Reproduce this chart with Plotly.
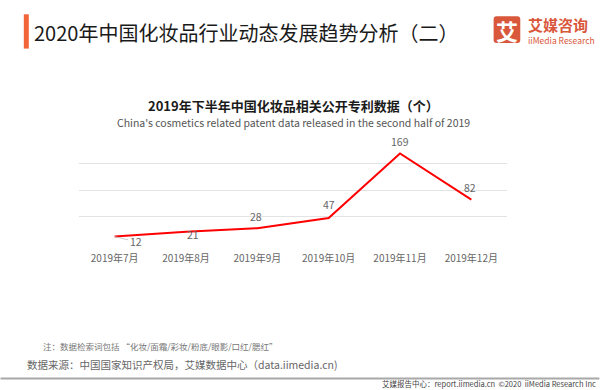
import plotly.graph_objects as go

# ---- data ----
months = ["2019年7月", "2019年8月", "2019年9月", "2019年10月", "2019年11月", "2019年12月"]
patents = [12, 21, 28, 47, 169, 82]
y_ticks = [0, 50, 100, 150, 200]

page_title = "2020年中国化妆品行业动态发展趋势分析（二）"
chart_title = "2019年下半年中国化妆品相关公开专利数据（个）"
chart_subtitle = "China's cosmetics related patent data released in the second half of 2019"
note_text = "注：数据检索词包括 “化妆/面霜/彩妆/粉底/眼影/口红/腮红”"
source_text = "数据来源：中国国家知识产权局，艾媒数据中心（data.iimedia.cn)"
footer_text = "艾媒报告中心：report.iimedia.cn  ©2020  iiMedia Research Inc"

W, H = 600, 390
L, R = 78.6, 507.4
T, B = 136.7, 242.7
PW, PH = R - L, B - T

def px(x):
    return (x - L) / PW

def py(y):
    return (B - y) / PH

FONT = "Noto Sans CJK SC"
NARROW = "Liberation Sans Narrow, Noto Sans CJK SC"

fig = go.Figure()
fig.add_trace(go.Scatter(
    x=months, y=patents, mode="lines",
    line=dict(color="#ff0000", width=2),
    hoverinfo="skip", showlegend=False,
))

# data labels: (yshift, xshift) offsets per point
offsets = [None, (-3, 7), (12, -1), (14, 0), (12, 0), (12, -1)]
annotations = []
for i, (m, v) in enumerate(zip(months, patents)):
    if offsets[i] is None:
        annotations.append(dict(
            x=m, y=v, xref="x", yref="y", text=str(v),
            showarrow=True, arrowhead=0, arrowwidth=0.8, arrowcolor="#bbbbbb",
            ax=21, ay=5, standoff=0, startstandoff=0,
            font=dict(family=FONT, size=10.5, color="#666666"),
        ))
    else:
        ys, xs = offsets[i]
        annotations.append(dict(
            x=m, y=v, xref="x", yref="y", text=str(v), showarrow=False,
            yshift=ys, xshift=xs,
            font=dict(family=FONT, size=10.5, color="#666666"),
        ))

# texts in page pixels
def ptext(text, x, y, size, color, anchor="left", bold=False, family=FONT):
    return dict(
        x=px(x), y=py(y), xref="paper", yref="paper", text=(f"<b>{text}</b>" if bold else text),
        showarrow=False, xanchor=anchor, yanchor="middle",
        font=dict(family=family, size=size, color=color),
    )

annotations += [
    ptext(page_title, 32, 32.5, 20, "#1a1a1a"),
    ptext(chart_title, 293, 105, 13, "#1a1a1a", anchor="center", bold=True),
    ptext(chart_subtitle, 293, 122, 10.5, "#555555", anchor="center"),
    ptext(note_text, 41, 345.5, 8.5, "#777777"),
    ptext(source_text, 24, 364, 10.5, "#666666"),
    ptext(footer_text, 599, 383.5, 7.5, "#444444", anchor="right", family=NARROW),
    ptext("艾", 507.3, 29.3, 22, "#ffffff", anchor="center", bold=True),
    ptext("艾媒咨询", 526, 24.5, 15, "#d9573a", bold=True),
    ptext("iiMedia Research", 526, 39.5, 8.5, "#d9573a"),
]

def rect(x0, y0, x1, y1, color):
    return dict(type="rect", xref="paper", yref="paper",
                x0=px(x0), x1=px(x1), y0=py(y1), y1=py(y0),
                fillcolor=color, line=dict(width=0), layer="above")

def rounded(x0, y0, x1, y1, r, color):
    X0, X1 = px(x0), px(x1)
    Y0, Y1 = py(y1), py(y0)
    rx, ry = r / PW, r / PH
    path = (f"M {X0+rx},{Y0} L {X1-rx},{Y0} Q {X1},{Y0} {X1},{Y0+ry} "
            f"L {X1},{Y1-ry} Q {X1},{Y1} {X1-rx},{Y1} L {X0+rx},{Y1} "
            f"Q {X0},{Y1} {X0},{Y1-ry} L {X0},{Y0+ry} Q {X0},{Y0} {X0+rx},{Y0} Z")
    return dict(type="path", xref="paper", yref="paper", path=path,
                fillcolor=color, line=dict(width=0), layer="below")

shapes = [
    rect(23.3, 14, 28.3, 48.3, "#f2643a"),
    rounded(494, 16, 520.7, 42.7, 3, "#d9573a"),
    dict(type="line", xref="paper", yref="paper", x0=px(0), x1=px(600),
         y0=py(378.3), y1=py(378.3), line=dict(color="#a8a8a8", width=2)),
]

fig.update_layout(
    width=W, height=H,
    margin=dict(l=L, r=W - R, t=T, b=H - B, pad=0),
    paper_bgcolor="#ffffff", plot_bgcolor="#ffffff",
    font=dict(family=FONT, color="#666666"),
    showlegend=False,
    annotations=annotations,
    shapes=shapes,
    xaxis=dict(
        type="category", range=[-0.5, 5.5], showgrid=False, zeroline=False,
        showline=False, ticks="", tickfont=dict(family=FONT, size=10, color="#666666"),
        ticklabelstandoff=8, fixedrange=True,
    ),
    yaxis=dict(
        range=[-0.05, 200.05], tickvals=y_ticks, showticklabels=False,
        showgrid=True, gridcolor="#e3e3e3", gridwidth=1.2,
        zeroline=False, showline=False, fixedrange=True,
    ),
)

fig.write_html(
    "out.html",
    config={"displayModeBar": False},
    post_script="document.body.style.margin='0';document.body.style.padding='0';document.body.style.overflow='hidden';",
)
